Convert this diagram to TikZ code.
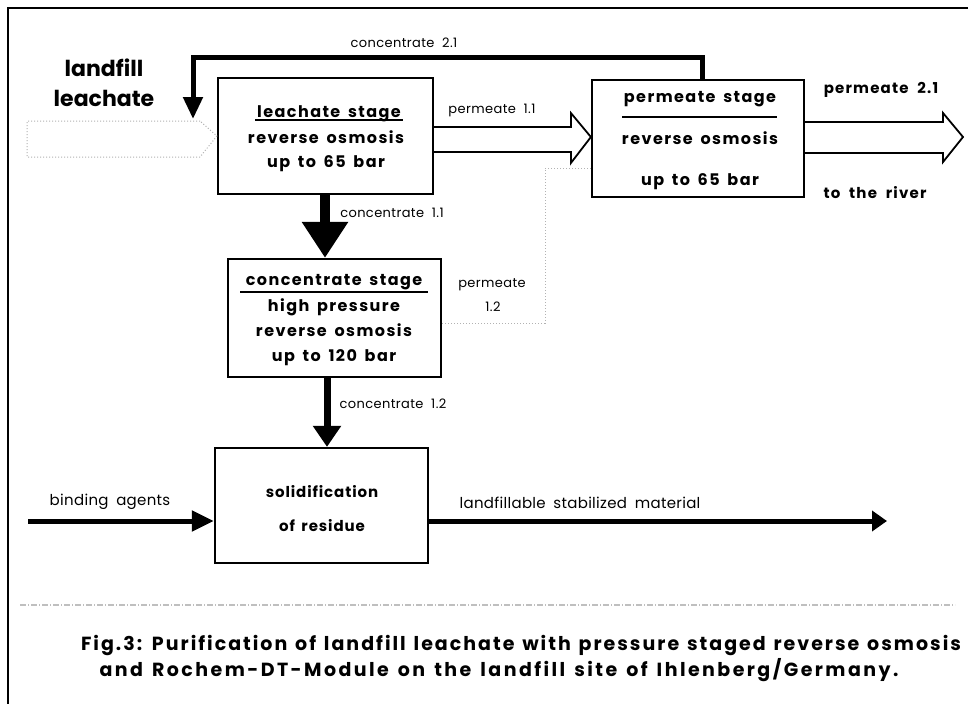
\documentclass[tikz,border=0pt]{standalone}
\usepackage{fontspec}
\setmainfont{Poppins}
\newfontfamily\boxfont[LetterSpace=9,WordSpace=1.6]{Poppins}
\newfontfamily\solfont[LetterSpace=6,WordSpace=1.6]{Poppins}
\newfontfamily\capfont[LetterSpace=10.5,WordSpace=1.3]{Poppins}
\newfontfamily\capfontb[LetterSpace=12.8,WordSpace=1.4]{Poppins}
\newfontfamily\lblfont[LetterSpace=3,WordSpace=2]{Poppins}
\newfontfamily\blblfont[LetterSpace=8,WordSpace=2]{Poppins}
\newfontfamily\nfont[LetterSpace=2,WordSpace=1.8]{Poppins}
\usetikzlibrary{arrows.meta,calc}
\begin{document}
\begin{tikzpicture}[x=1pt,y=-1pt,
  box/.style={draw, line width=2.2pt, inner sep=0pt},
  boxtxt/.style={font=\boxfont\bfseries\fontsize{16}{16}\selectfont, inner sep=0pt, anchor=base},
  soltxt/.style={font=\solfont\bfseries\fontsize{15}{15}\selectfont, inner sep=0pt, anchor=base},
  lbl/.style={font=\lblfont\fontsize{13}{13}\selectfont, inner sep=0pt},
  nlbl/.style={font=\nfont\fontsize{15}{15}\selectfont, inner sep=0pt},
  blbl/.style={font=\blblfont\bfseries\fontsize{15}{15}\selectfont, inner sep=0pt},
  biglbl/.style={font=\bfseries\fontsize{22}{22}\selectfont, inner sep=0pt},
  captxt/.style={font=\capfont\bfseries\fontsize{19}{19}\selectfont, inner sep=0pt},
  captxtb/.style={font=\capfontb\bfseries\fontsize{19}{19}\selectfont, inner sep=0pt},
  uline/.style={line width=1.5pt},
  hollow/.style={draw, line width=1.8pt, line join=miter},
  faint/.style={draw=black!30, line width=1pt, dotted},
]
\useasboundingbox (0,0) rectangle (970,704);
\fill[white] (0,0) rectangle (970,704);

% frame
\coordinate (ftl) at (8,8);
\coordinate (ftr) at (968,8);
\coordinate (fbl) at (8,704);
\draw[line width=2pt] (ftr) -- (ftl) -- (fbl);

% boxes
\node[box, minimum width=215pt, minimum height=116pt] (leach) at (325.5,136) {};
\node[box, minimum width=212pt, minimum height=117pt] (perm) at (698,138.5) {};
\node[box, minimum width=213pt, minimum height=118pt] (conc) at (334.5,318) {};
\node[box, minimum width=213pt, minimum height=115pt] (solid) at (321.5,505.5) {};

% box texts
\node[boxtxt] (leach1) at (329,117) {leachate stage};
\node[boxtxt] (leach2) at (326,143) {reverse osmosis};
\node[boxtxt] (leach3) at (326,167) {up to 65 bar};
\draw[uline] (255,120) -- (403,120);

\node[boxtxt] (perm1) at (700,102) {permeate stage};
\node[boxtxt] (perm2) at (700,144) {reverse osmosis};
\node[boxtxt] (perm3) at (700,185) {up to 65 bar};
\draw[uline] (622,117) -- (777,117);

\node[boxtxt] (conc1) at (334,285) {concentrate stage};
\draw[uline] (240,292) -- (428,292);
\node[boxtxt] (conc2) at (334,311) {high pressure};
\node[boxtxt] (conc3) at (334,336) {reverse osmosis};
\node[boxtxt] (conc4) at (334,361) {up to 120 bar};

\node[soltxt] (sol1) at (322,497) {solidification};
\node[soltxt] (sol2) at (322,531) {of residue};

% faint input arrow (landfill leachate)
\coordinate (inA) at (200,121);
\coordinate (inB) at (27,121);
\coordinate (inC) at (27,157);
\coordinate (inD) at (200,157);
\draw[faint, line join=miter] (inA) -- (inB) -- (inC) -- (inD) -- (leach.west) -- cycle;
\node[biglbl] (lf1) at (104,68) {landfill};
\node[biglbl] (lf2) at (104,98) {leachate};

% concentrate 2.1 recycle
\coordinate (c21a) at (702,57);
\coordinate (c21b) at (193,57);
\coordinate (c21end) at (193,119);
\draw[line width=5pt, -{Triangle[width=19pt,length=22pt]}]
  (perm.north -| c21a) -- (c21a) -- (c21b) -- (c21end);
\node[lbl] (c21) at (404,43) {concentrate 2.1};

% permeate 1.1 hollow arrow
\draw[hollow]
  ($(leach.east)+(0,-9)$) -- ($(perm.west)+(-20,-11.5)$) -- ($(perm.west)+(-20,-25.5)$)
  -- ($(perm.west)+(0,-1.5)$) -- ($(perm.west)+(-20,24.5)$) -- ($(perm.west)+(-20,13.5)$)
  -- ($(leach.east)+(0,16)$);
\node[lbl] (p11) at (492,110) {permeate 1.1};

% permeate 2.1 hollow arrow
\coordinate (p21tip) at (963,137);
\draw[hollow]
  ($(perm.east)+(0,-16.5)$) -- ($(p21tip)+(-20,-15)$) -- ($(p21tip)+(-20,-24)$)
  -- (p21tip) -- ($(p21tip)+(-20,25)$) -- ($(p21tip)+(-20,16)$)
  -- ($(perm.east)+(0,14.5)$);
\node[blbl] (p21) at (881,90) {permeate 2.1};
\node[blbl] (river) at (875,193) {to the river};

% concentrate 1.1
\draw[line width=10pt, -{Triangle[width=44pt,length=36pt]}]
  (leach.south -| 325,0) -- (conc.north -| 325,0);
\node[lbl] (c11) at (392,213) {concentrate 1.1};

% permeate 1.2 faint line
\coordinate (p12a) at (545,323);
\coordinate (p12b) at (545,168);
\draw[faint] (conc.east |- p12a) -- (p12a) -- (p12b) -- (perm.west |- p12b);
\node[lbl] (p12) at (492,285) {permeate};
\node[lbl] (p12n) at (493,307) {1.2};

% concentrate 1.2
\draw[line width=7pt, -{Triangle[width=27pt,length=21pt]}]
  (conc.south -| 327,0) -- (solid.north -| 327,0);
\node[lbl] (c12) at (393,404) {concentrate 1.2};

% binding agents
\coordinate (bstart) at (28,521);
\draw[line width=5pt, -{Triangle[width=20pt,length=22pt]}] (bstart) -- (solid.west |- bstart);
\node[nlbl] (bind) at (110,502) {binding agents};

% landfillable stabilized material
\coordinate (lend) at (887,521);
\draw[line width=5pt, -{Triangle[width=20pt,length=15pt]}] (solid.east |- lend) -- (lend);
\node[nlbl] (lsm) at (580,503) {landfillable stabilized material};

% separator
\coordinate (sepL) at (20,605);
\coordinate (sepR) at (955,605);
\draw[draw=black!25, line width=1.2pt, dash pattern=on 6pt off 2pt on 1pt off 2pt] (sepL) -- (sepR);

% caption
\node[captxt] (cap1) at (521,645) {Fig.3: Purification of landfill leachate with pressure staged reverse osmosis};
\node[captxtb] (cap2) at (499,670) {and Rochem-DT-Module on the landfill site of Ihlenberg/Germany.};
\end{tikzpicture}
\end{document}
